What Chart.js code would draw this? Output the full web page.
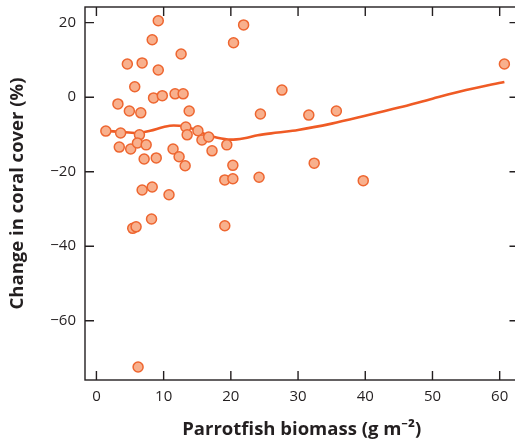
<!DOCTYPE html>
<html lang="en">
<head>
    <meta charset="UTF-8">
    <title>Parrotfish biomass vs coral cover</title>
    <script src="https://cdnjs.cloudflare.com/ajax/libs/Chart.js/4.4.0/chart.umd.min.js"></script>
    <style>
        html, body {
            margin: 0;
            padding: 0;
            background: #fff;
            overflow: hidden;
        }
        #chart {
            display: block;
        }
    </style>
</head>
<body>
    <canvas id="chart" width="525" height="443"></canvas>

    <script>
        // Sites: parrotfish biomass (g m-2) and change in coral cover (%)
        const biomass = [
            9.2, 8.3, 21.9, 12.6, 4.6, 6.8, 9.2, 20.4, 5.7, 3.2,
            8.5, 9.8, 11.7, 12.9, 13.8, 4.9, 6.6, 27.6, 24.4, 31.6,
            35.7, 60.7, 1.4, 3.6, 6.4, 3.4, 5.1, 6.1, 7.4, 7.1,
            8.9, 6.8, 8.3, 10.8, 13.3, 13.5, 15.1, 15.7, 16.7, 19.4,
            17.2, 11.4, 12.3, 13.2, 20.3, 19.1, 20.3, 24.2, 32.4, 39.7,
            19.1, 5.4, 5.9, 8.2, 6.2
        ];
        const coralChange = [
            20.5, 15.4, 19.4, 11.6, 8.9, 9.2, 7.3, 14.6, 2.8, -1.8,
            -0.2, 0.4, 0.9, 0.9, -3.7, -3.7, -4.2, 1.9, -4.5, -4.8,
            -3.7, 8.9, -9.1, -9.6, -10.1, -13.4, -13.9, -12.3, -12.8, -16.6,
            -16.3, -24.9, -24.1, -26.2, -8.0, -10.1, -9.0, -11.5, -10.7, -12.8,
            -14.4, -13.9, -16.0, -18.4, -18.3, -22.2, -21.9, -21.5, -17.7, -22.4,
            -34.5, -35.2, -34.8, -32.7, -72.4
        ];

        // Smoothed trend
        const trendX = [1.3, 3.5, 6, 8, 10, 11.5, 13, 14.5, 16, 18, 20, 22, 24, 27, 30, 35, 40, 45, 50, 55, 60.7];
        const trendY = [-9.0, -9.3, -9.6, -9.0, -8.0, -7.6, -7.8, -8.6, -9.8, -10.9, -11.4, -11.0, -10.2, -9.5, -8.8, -7.1, -5.0, -2.8, -0.4, 1.9, 4.1];

        const xTicks = [0, 10, 20, 30, 40, 50, 60];
        const yTicks = [-60, -40, -20, 0, 20];

        const ink = "#231f20";
        const fontFamily = "'Open Sans', 'Noto Sans', sans-serif";

        // box frame with inward tick marks on all four sides
        const frameTicks = {
            id: "frameTicks",
            beforeDatasetsDraw(chart) {
                const { ctx, chartArea: a, scales } = chart;
                const len = 9;
                ctx.save();
                ctx.strokeStyle = ink;
                ctx.lineWidth = 1.4;
                ctx.strokeRect(a.left, a.top, a.right - a.left, a.bottom - a.top);
                ctx.beginPath();
                xTicks.forEach(v => {
                    const px = scales.x.getPixelForValue(v);
                    ctx.moveTo(px, a.bottom);
                    ctx.lineTo(px, a.bottom - len);
                    ctx.moveTo(px, a.top);
                    ctx.lineTo(px, a.top + len);
                });
                yTicks.forEach(v => {
                    const py = scales.y.getPixelForValue(v);
                    ctx.moveTo(a.left, py);
                    ctx.lineTo(a.left + len, py);
                    ctx.moveTo(a.right, py);
                    ctx.lineTo(a.right - len, py);
                });
                ctx.stroke();
                ctx.restore();
            }
        };

        const minus = v => String(v).replace("-", "\u2212");

        const ctx = document.getElementById("chart").getContext("2d");

        new Chart(ctx, {
            type: "scatter",
            data: {
                datasets: [
                    {
                        label: "Sites",
                        data: biomass.map((x, i) => ({ x: x, y: coralChange[i] })),
                        backgroundColor: "#f8b08d",
                        borderColor: "#ee6630",
                        borderWidth: 1.5,
                        pointRadius: 5,
                        order: 1
                    },
                    {
                        label: "Trend",
                        data: trendX.map((x, i) => ({ x: x, y: trendY[i] })),
                        showLine: true,
                        borderColor: "#ef5b25",
                        borderWidth: 2.6,
                        pointRadius: 0,
                        cubicInterpolationMode: "monotone",
                        order: 2
                    }
                ]
            },
            options: {
                responsive: false,
                animation: false,
                layout: {
                    padding: { top: 7, right: 3, left: 0, bottom: 0 }
                },
                plugins: {
                    legend: { display: false },
                    tooltip: { enabled: false }
                },
                scales: {
                    x: {
                        type: "linear",
                        min: -1.7,
                        max: 62.8,
                        afterBuildTicks: s => { s.ticks = xTicks.map(v => ({ value: v })); },
                        afterFit: s => { s.height = 63; s.paddingLeft = 0; s.paddingRight = 0; },
                        grid: { display: false, drawTicks: false },
                        border: { display: false },
                        ticks: {
                            padding: 8,
                            color: ink,
                            font: { family: fontFamily, size: 15 },
                            maxRotation: 0,
                            callback: v => minus(v)
                        },
                        title: {
                            display: true,
                            text: "Parrotfish biomass (g m\u207B\u00B2)",
                            color: ink,
                            font: { family: fontFamily, size: 18.5, weight: "bold" },
                            padding: { top: 0, bottom: 2 }
                        }
                    },
                    y: {
                        type: "linear",
                        min: -75.9,
                        max: 24.2,
                        afterBuildTicks: s => { s.ticks = yTicks.map(v => ({ value: v })); },
                        afterFit: s => { s.width = 85; s.paddingTop = 0; s.paddingBottom = 0; },
                        grid: { display: false, drawTicks: false },
                        border: { display: false },
                        ticks: {
                            padding: 9,
                            color: ink,
                            font: { family: fontFamily, size: 15 },
                            callback: v => minus(v)
                        },
                        title: {
                            display: true,
                            text: "Change in coral cover (%)",
                            color: ink,
                            font: { family: fontFamily, size: 18.5, weight: "bold" },
                            padding: { top: 7, bottom: 0 }
                        }
                    }
                }
            },
            plugins: [frameTicks]
        });
    </script>
</body>
</html>
